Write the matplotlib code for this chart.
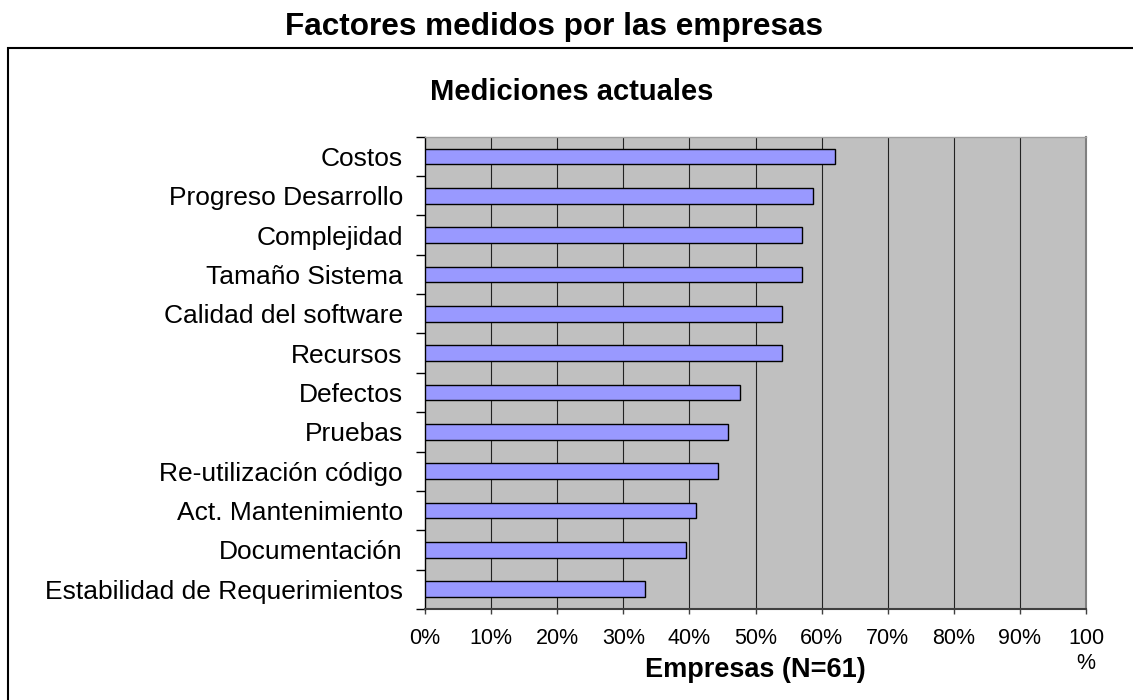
import matplotlib
matplotlib.use("Agg")
import matplotlib.pyplot as plt
from matplotlib.patches import Rectangle
from matplotlib.ticker import FixedLocator

plt.rcParams['font.family'] = ['Liberation Sans', 'DejaVu Sans']

# data, top to bottom
factores = ['Costos', 'Progreso Desarrollo', 'Complejidad', 'Tamaño Sistema',
            'Calidad del software', 'Recursos', 'Defectos', 'Pruebas',
            'Re-utilización código', 'Act. Mantenimiento', 'Documentación',
            'Estabilidad de Requerimientos']
porcentaje = [62.0, 58.7, 57.0, 57.0, 54.0, 54.0, 47.6, 45.8, 44.3, 41.0, 39.5, 33.3]
xticks = [0, 10, 20, 30, 40, 50, 60, 70, 80, 90, 100]
xtick_labels = ['0%', '10%', '20%', '30%', '40%', '50%', '60%', '70%', '80%', '90%', '100\n%']

W, H = 1133, 700
fig = plt.figure(figsize=(W / 100, H / 100), dpi=100)
ax = fig.add_axes([425 / W, 1 - 609 / H, (1086 - 425) / W, (609 - 136.7) / H])

n = len(factores)
pos = list(range(n))
ax.set_facecolor('#c0c0c0')
ax.barh(pos, porcentaje, height=0.4, color='#9999ff', edgecolor='black', linewidth=1.0, zorder=3)
ax.set_ylim(n - 0.5, -0.5)
ax.set_xlim(0, 100)

# gridlines at 10..90
for x in xticks[1:-1]:
    ax.axvline(x, color='#222222', linewidth=0.8, zorder=1)

# x axis
ax.set_xticks(xticks)
ax.set_xticklabels(xtick_labels, fontsize=15.5, multialignment='center', linespacing=1.25)
ax.tick_params(axis='x', direction='out', length=3.5, width=1, color='#404040', pad=10.5)

# y axis: ticks at category borders, labels at centers
ax.yaxis.set_major_locator(FixedLocator([i - 0.5 for i in range(n + 1)]))
ax.yaxis.set_minor_locator(FixedLocator(pos))
ax.set_yticklabels([], minor=False)
ax.set_yticklabels(factores, minor=True, fontsize=19)
ax.tick_params(axis='y', which='major', direction='out', length=6.5, width=1, color='black')
ax.tick_params(axis='y', which='minor', length=0, pad=16)

ax.spines['left'].set_color('black')
ax.spines['left'].set_linewidth(1.0)
ax.spines['bottom'].set_color('#404040')
ax.spines['bottom'].set_linewidth(1.5)
ax.spines['top'].set_color('#a0a0a0')
ax.spines['top'].set_linewidth(1.0)
ax.spines['right'].set_color('#808080')
ax.spines['right'].set_linewidth(1.5)

# x axis title
fig.text(755 / W, 1 - 677 / H, 'Empresas (N=61)', fontsize=19.5, fontweight='bold',
         ha='center', va='baseline')

# chart title and page title
fig.text(572 / W, 1 - 100 / H, 'Mediciones actuales', fontsize=21, fontweight='bold',
         ha='center', va='baseline')
fig.text(554 / W, 1 - 35 / H, 'Factores medidos por las empresas', fontsize=22.7,
         fontweight='bold', ha='center', va='baseline')

# frame around the chart (runs past the right and bottom edges)
fig.add_artist(Rectangle((8 / W, -0.1), 1.2, 1.1 - 48 / H, transform=fig.transFigure,
                         fill=False, edgecolor='black', linewidth=1.5))

fig.savefig('out.png', dpi=100)
